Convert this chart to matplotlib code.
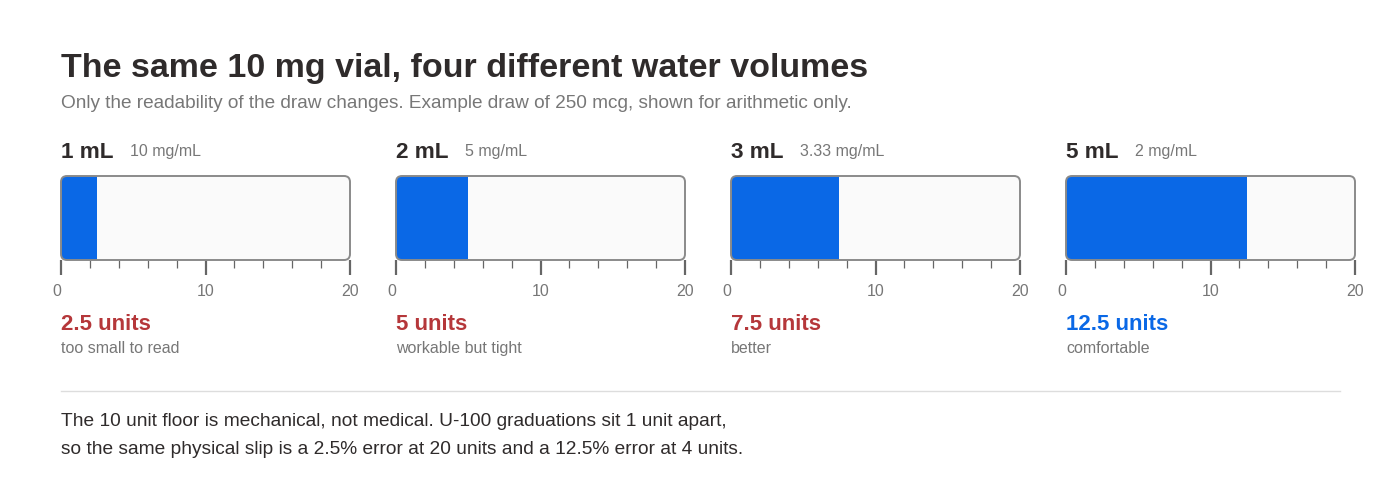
import matplotlib
matplotlib.use("Agg")
import matplotlib.pyplot as plt
from matplotlib.patches import FancyBboxPatch, Rectangle
from matplotlib.ticker import MultipleLocator

plt.rcParams['font.family'] = ['Liberation Sans', 'DejaVu Sans']

# ---- data ----
volumes = ["1 mL", "2 mL", "3 mL", "5 mL"]
concentrations = ["10 mg/mL", "5 mg/mL", "3.33 mg/mL", "2 mg/mL"]
draw_units = [2.5, 5, 7.5, 12.5]
verdicts = ["too small to read", "workable but tight", "better", "comfortable"]
is_comfortable = [False, False, False, True]
scale_max = 20
major_ticks = [0, 10, 20]

title = "The same 10 mg vial, four different water volumes"
subtitle = ("Only the readability of the draw changes. Example draw of 250 mcg, "
            "shown for arithmetic only.")
footer = ["The 10 unit floor is mechanical, not medical. U-100 graduations sit 1 unit apart,",
          "so the same physical slip is a 2.5% error at 20 units and a 12.5% error at 4 units."]

# ---- style ----
W, H = 1400, 478
DARK = "#2f2b2b"
GRAY = "#777777"
BLUE = "#0a68e6"
RED = "#b5373a"
EDGE = "#8a8a8a"

fig = plt.figure(figsize=(W / 100, H / 100), dpi=100)
fig.patch.set_facecolor("white")


def fx(x):
    return x / W


def fy(y):
    return 1 - y / H


fig.text(fx(61), fy(77), title, fontsize=24.5, fontweight="bold", color=DARK, va="baseline")
fig.text(fx(61), fy(108), subtitle, fontsize=13.7, color=GRAY, va="baseline")

x0s = [61, 396, 731, 1066]
bw, top, bot = 289, 176, 260
aspect = (1 / (bot - top)) / (scale_max / bw)

for i in range(len(volumes)):
    x0 = x0s[i]
    ax = fig.add_axes([fx(x0), fy(bot), fx(bw), (bot - top) / H])
    ax.set_xlim(0, scale_max)
    ax.set_ylim(0, 1)
    for s in ax.spines.values():
        s.set_visible(False)
    ax.set_yticks([])
    ax.set_facecolor("none")
    ax.set_xticks(major_ticks)
    ax.xaxis.set_minor_locator(MultipleLocator(2))
    ax.tick_params(axis="x", which="major", length=11, width=1.6, color="#666666",
                   labelsize=11.5, labelcolor=GRAY, pad=6)
    ax.tick_params(axis="x", which="minor", length=6, width=0.9, color="#666666")
    ax.get_xticklabels()[0].set_horizontalalignment("right")

    rs = 6 * scale_max / bw
    barrel = FancyBboxPatch((0, 0), scale_max, 1, boxstyle=f"round,pad=0,rounding_size={rs}",
                            mutation_aspect=aspect, facecolor="#fafafa", edgecolor="none",
                            clip_on=False, zorder=1)
    ax.add_patch(barrel)
    fill = Rectangle((0, 0), draw_units[i], 1, facecolor=BLUE, edgecolor="none", zorder=2)
    ax.add_patch(fill)
    fill.set_clip_path(barrel)
    outline = FancyBboxPatch((0, 0), scale_max, 1, boxstyle=f"round,pad=0,rounding_size={rs}",
                             mutation_aspect=aspect, facecolor="none", edgecolor=EDGE,
                             linewidth=1.4, clip_on=False, zorder=3)
    ax.add_patch(outline)

    fig.text(fx(x0), fy(158), volumes[i], fontsize=16.2, fontweight="bold", color=DARK, va="baseline")
    fig.text(fx(x0 + 69), fy(156), concentrations[i], fontsize=11.5, color=GRAY, va="baseline")
    fig.text(fx(x0), fy(330), f"{draw_units[i]:g} units", fontsize=16, fontweight="bold",
             color=BLUE if is_comfortable[i] else RED, va="baseline")
    fig.text(fx(x0), fy(353), verdicts[i], fontsize=11.5, color=GRAY, va="baseline")

fig.add_artist(plt.Line2D([fx(61), fx(1340)], [fy(391), fy(391)], color="#dddddd", linewidth=1))
fig.text(fx(61), fy(426), footer[0], fontsize=13.8, color=DARK, va="baseline")
fig.text(fx(61), fy(454), footer[1], fontsize=13.8, color=DARK, va="baseline")

fig.savefig("out.png", dpi=100, facecolor="white")
